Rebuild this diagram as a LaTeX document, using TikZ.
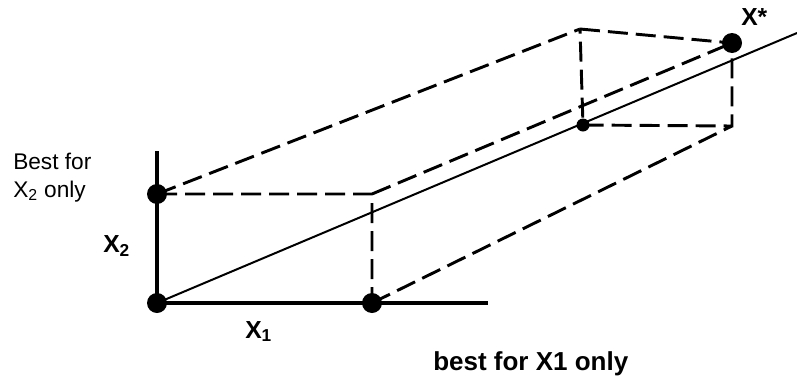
\documentclass[tikz,border=0pt]{standalone}
\usepackage{fontspec}
\setmainfont{Liberation Sans}
\begin{document}
\begin{tikzpicture}[x=0.75pt,y=-0.75pt,line cap=butt,line join=miter]
\tikzset{
  axisline/.style={line width=3.4pt},
  rayline/.style={line width=1.5pt},
  guideline/.style={line width=2.2pt,dash pattern=on 15pt off 6pt},
  labeltext/.style={font=\fontsize{18.5}{22}\selectfont\bfseries,inner sep=0pt},
  notetext/.style={font=\fontsize{17}{20}\selectfont,inner sep=0pt}
}
\useasboundingbox (0,0) rectangle (797,379);

% points of the front face
\coordinate (origin) at (157,303);
\coordinate (bestxtwo) at (157,194);
\coordinate (bestxone) at (372,303);
\coordinate (frontcorner) at (372,194);
\coordinate (axistop) at (157,151);
\coordinate (axisend) at (488,303);

% points of the rear face
\coordinate (rearcorner) at (580,29);
\coordinate (xstar) at (732,43);
\coordinate (reardown) at (732,126);
\coordinate (meetpt) at (583,125);
\coordinate (rayend) at (797,33);

% dashed box
\draw[guideline]
  (bestxtwo) -- (frontcorner) -- (bestxone)
  (bestxtwo) -- (rearcorner)
  (frontcorner) -- (xstar)
  (bestxone) -- (reardown)
  (rearcorner) -- (xstar) -- (reardown) -- (meetpt) -- (rearcorner);

% ray and axes
\draw[rayline] (origin) -- (rayend);
\draw[axisline] (axistop) -- (origin) -- (axisend);

\foreach \pt in {origin,bestxtwo,bestxone,xstar} {
  \fill (\pt) circle [radius=10];
}
\fill (meetpt) circle [radius=6.5];

% labels
\node[notetext,anchor=base west] (bestfor) at (13,169) {Best for};
\node[notetext,anchor=base west] (xtwoonly) at (13,197) {X\textsubscript{2} only};
\node[labeltext,anchor=base west] (xtwolabel) at (103,252) {X\textsubscript{2}};
\node[labeltext,anchor=base west] (xonelabel) at (245,338) {X\textsubscript{1}};
\node[labeltext,anchor=base west] (xstarlabel) at (741,25) {X*};
\node[labeltext,font=\fontsize{19.5}{23}\selectfont\bfseries,anchor=base west] (bestxonly) at (433,370) {best for X1 only};
\end{tikzpicture}
\end{document}
